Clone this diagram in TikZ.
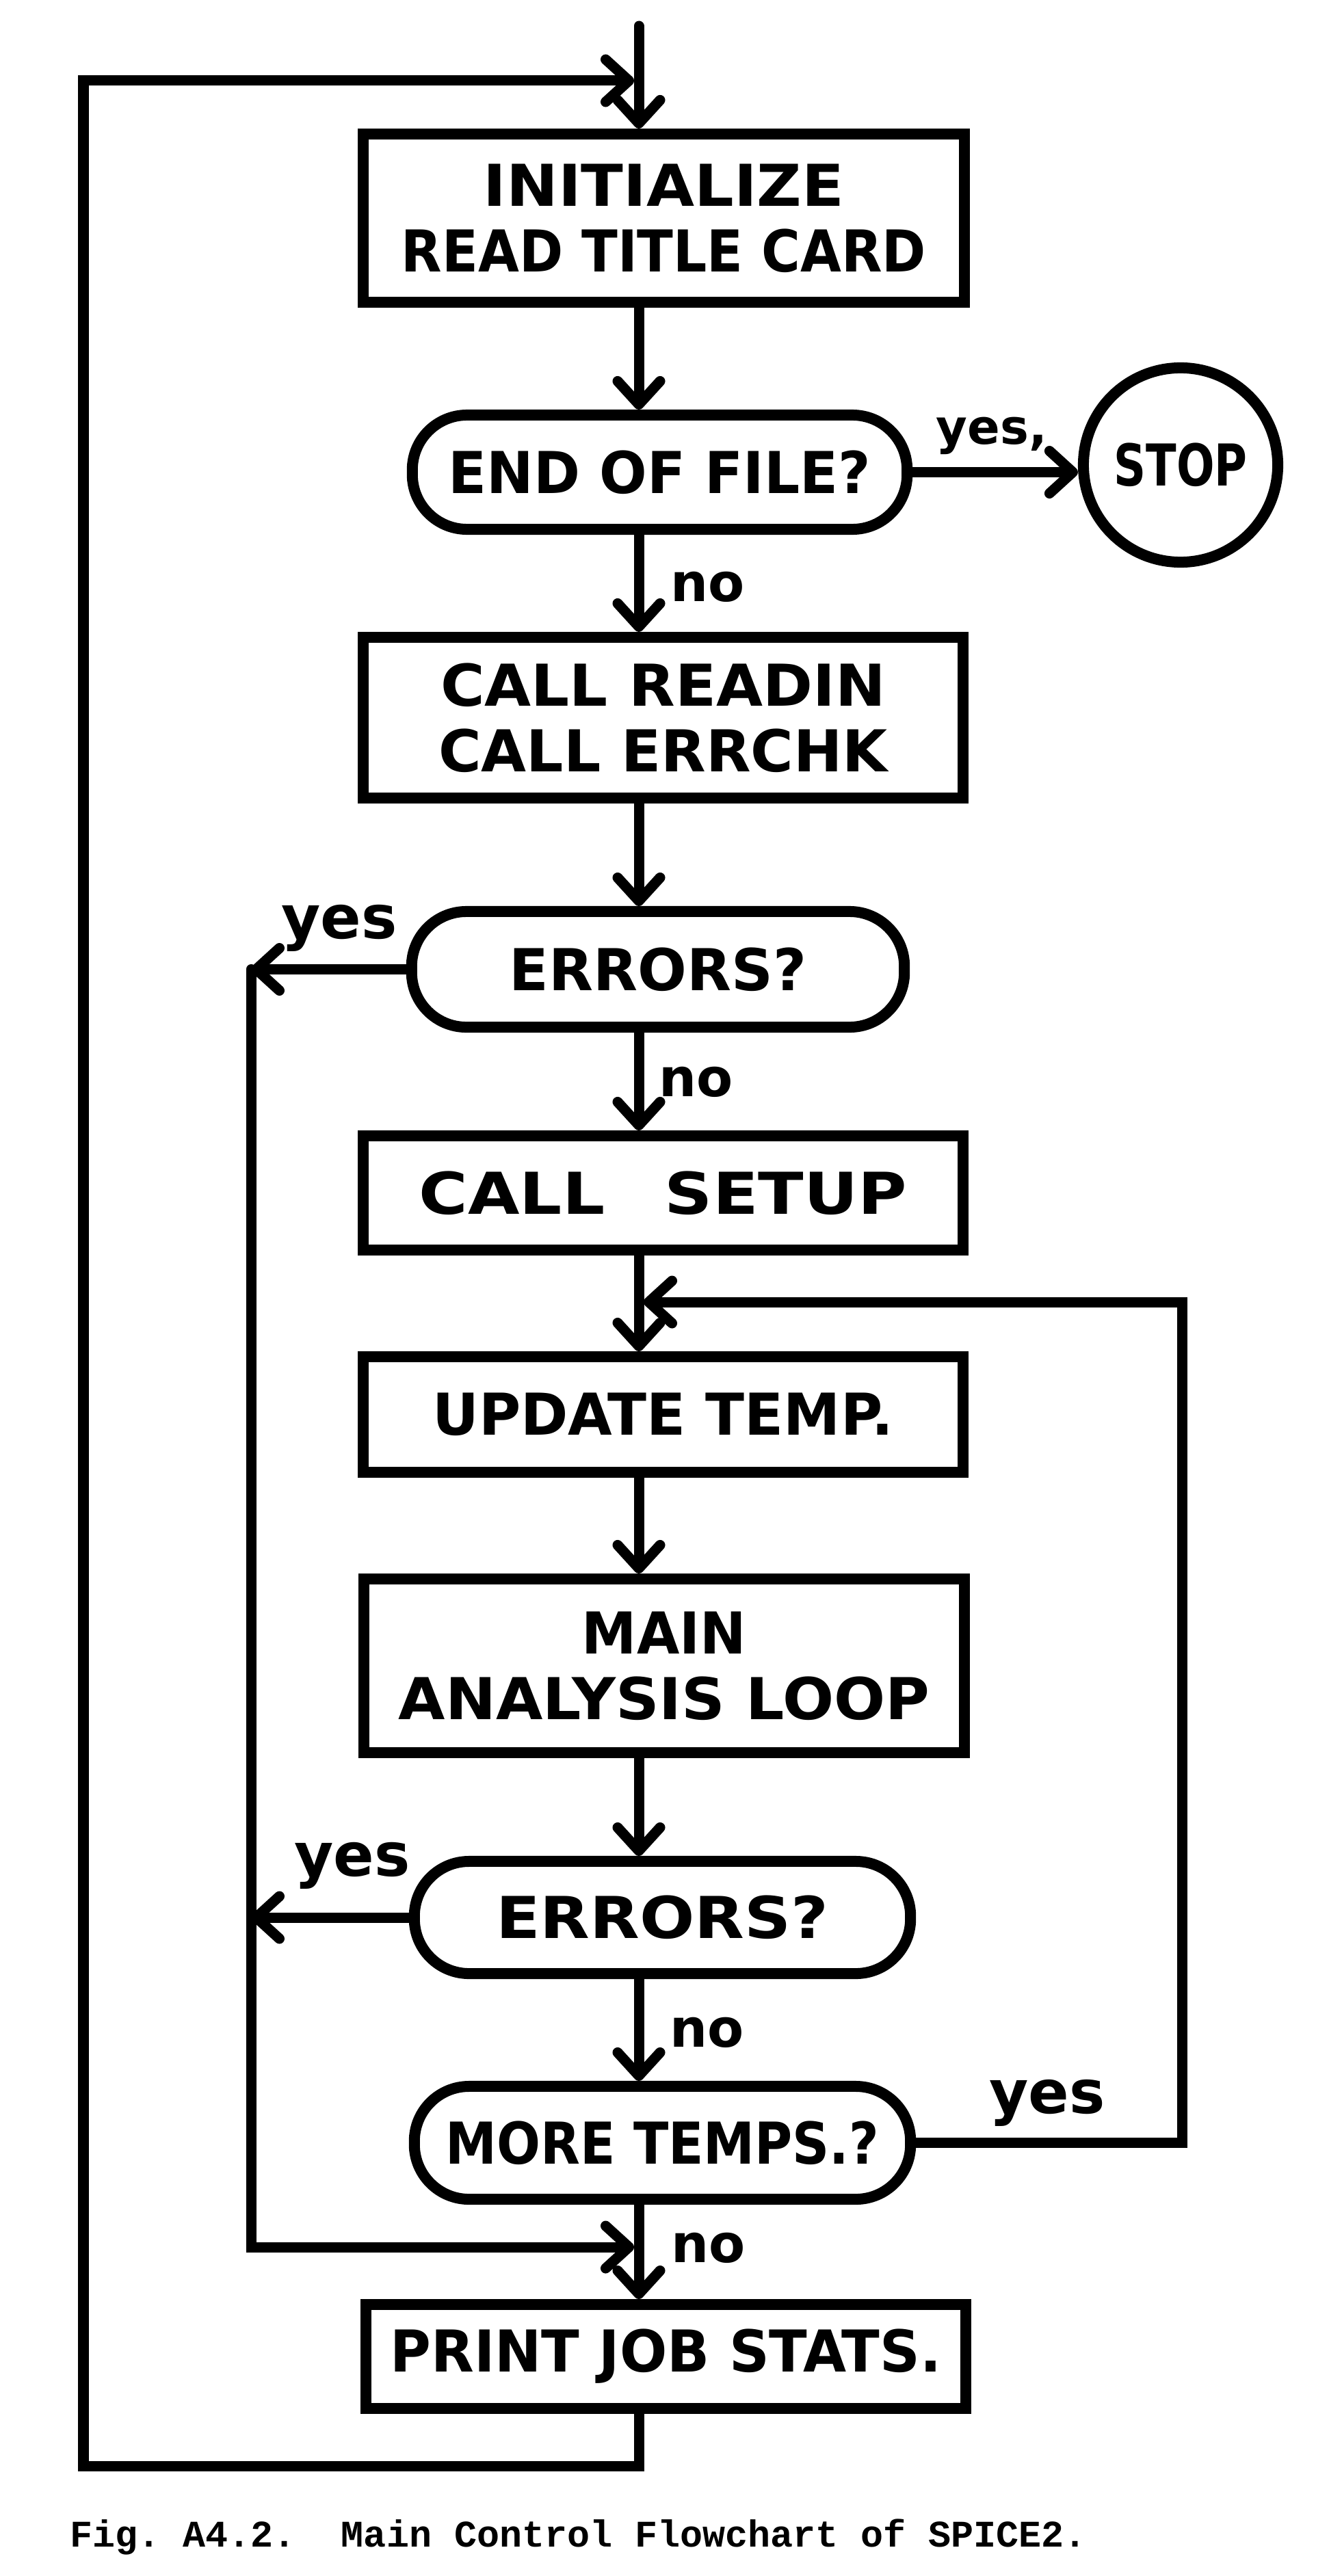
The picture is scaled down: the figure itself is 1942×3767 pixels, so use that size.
\documentclass[tikz,border=0pt]{standalone}
\usepackage{fontspec}
\usepackage{graphicx}
\usetikzlibrary{arrows.meta}
\newfontfamily\handfont{DejaVu Sans}
\newfontfamily\capfont{Liberation Mono}
\newcommand\hw[2]{\resizebox{#1cm}{\height}{#2}}
\begin{document}
\frenchspacing
\begin{tikzpicture}[x=0.01cm,y=-0.01cm,
  shp/.style={draw, line width=0.16cm, inner sep=0pt, align=center,
    font=\handfont\bfseries\fontsize{24}{27.3}\selectfont},
  boxn/.style={shp, rectangle},
  stad/.style={shp, rectangle, rounded corners=0.8cm},
  conn/.style={line width=0.15cm, line cap=round},
  arr/.style={conn, -{Straight Barb[length=0.34cm,width=0.62cm,round]}},
  lbl/.style={inner sep=0pt, font=\handfont\bfseries\fontsize{22}{22}\selectfont},
  lblb/.style={inner sep=0pt, font=\handfont\bfseries\fontsize{25}{25}\selectfont}]
\useasboundingbox (0,0) rectangle (1942,3767);

% shapes
\node[boxn, minimum width=8.79cm, minimum height=2.46cm] (init) at (970.5,319)
  {\hw{5.27}{INITIALIZE}\\\hw{7.67}{READ TITLE CARD}};
\node[stad, minimum width=7.23cm, minimum height=1.67cm] (eof) at (964.5,690.5)
  {\hw{6.17}{END OF FILE?}};
\node[shp, circle, minimum size=2.84cm] (stop) at (1726,680) {\hw{1.95}{STOP}};
\node[boxn, minimum width=8.77cm, minimum height=2.35cm] (readin) at (969.5,1049.5)
  {\hw{6.50}{CALL READIN}\\\hw{6.56}{CALL ERRCHK}};
\node[stad, minimum width=7.20cm, minimum height=1.69cm] (err1) at (962,1417.5)
  {\hw{4.34}{ERRORS?}};
\node[boxn, minimum width=8.77cm, minimum height=1.67cm] (setup) at (969.5,1744.5)
  {\hw{7.13}{CALL\hspace{0.9em}SETUP}};
\node[boxn, minimum width=8.77cm, minimum height=1.69cm] (update) at (969.5,2068.5)
  {\hw{6.74}{UPDATE TEMP.}};
\node[boxn, minimum width=8.78cm, minimum height=2.54cm] (main) at (971,2436)
  {\hw{2.40}{MAIN}\\\hw{7.76}{ANALYSIS LOOP}};
\node[stad, minimum width=7.25cm, minimum height=1.64cm] (err2) at (968.5,2804)
  {\hw{4.86}{ERRORS?}};
\node[stad, minimum width=7.25cm, minimum height=1.65cm] (more) at (968.5,3133.5)
  {\hw{6.33}{MORE TEMPS.?}};
\node[boxn, minimum width=8.77cm, minimum height=1.52cm] (print) at (973.5,3446)
  {\hw{8.05}{PRINT JOB STATS.}};

% helper coordinates
\coordinate (mx) at (934,0);
\coordinate (topin) at (934,38);
\coordinate (jtop) at (927,118);
\coordinate (bl) at (122,3606);
\coordinate (c1) at (367,1417.5);
\coordinate (jlow) at (927,3286);
\coordinate (rtop) at (1728,1904);
\coordinate (jmid) at (941,1904);

% connectors
\draw[arr] (topin) -- (init.north -| mx);
\draw[arr] (print.south -| mx) |- (bl) |- (jtop);
\draw[arr] (init.south -| mx) -- (eof.north -| mx);
\draw[arr] (eof.east) -- (eof.east -| stop.west);
\draw[arr] (eof.south -| mx) -- (readin.north -| mx);
\draw[arr] (readin.south -| mx) -- (err1.north -| mx);
\draw[arr] (err1.west) -- (c1);
\draw[arr] (c1) |- (jlow);
\draw[arr] (err1.south -| mx) -- (setup.north -| mx);
\draw[arr] (setup.south -| mx) -- (update.north -| mx);
\draw[arr] (more.east) -| (rtop) -- (jmid);
\draw[arr] (update.south -| mx) -- (main.north -| mx);
\draw[arr] (main.south -| mx) -- (err2.north -| mx);
\draw[arr] (err2.west) -- (err2.west -| c1);
\draw[arr] (err2.south -| mx) -- (more.north -| mx);
\draw[arr] (more.south -| mx) -- (print.north -| mx);

% labels
\node[lbl, font=\handfont\bfseries\fontsize{20}{20}\selectfont] (yes1) at (1450,637) {yes,};
\node[lbl] (no1) at (1035,858) {no};
\node[lblb] (yes2) at (496,1357) {yes};
\node[lbl] (no2) at (1018,1582) {no};
\node[lblb] (yes3) at (515,2728) {yes};
\node[lbl] (no3) at (1034,2972) {no};
\node[lblb] (yes4) at (1531,3075) {yes};
\node[lbl] (no4) at (1036,3287) {no};

% caption
\node[anchor=base west, inner sep=0pt, font=\capfont\bfseries\fontsize{15.65}{18}\selectfont]
  (cap) at (102,3724) {Fig. A4.2.~~Main Control Flowchart of SPICE2.};
\end{tikzpicture}
\end{document}
